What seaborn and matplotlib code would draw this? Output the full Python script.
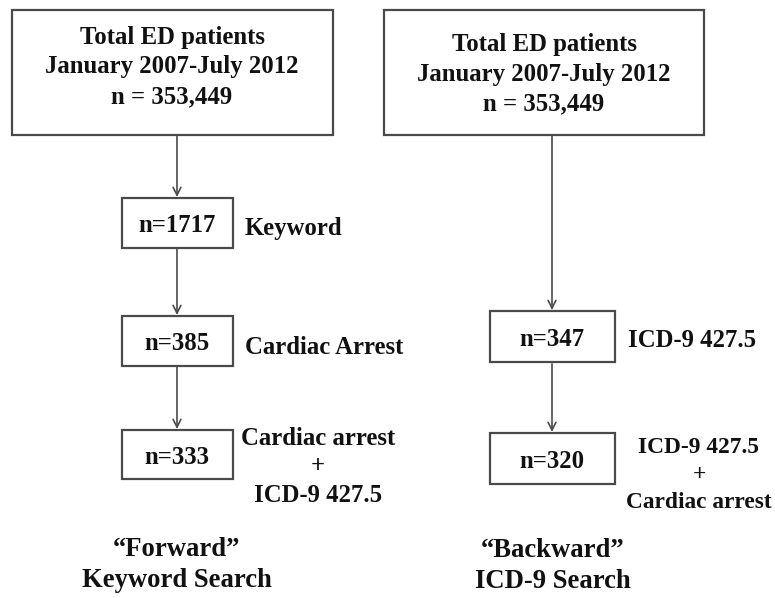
import matplotlib.pyplot as plt
import seaborn as sns
from matplotlib.patches import Rectangle

# flowchart content
top_label = "Total ED patients\nJanuary 2007-July 2012\nn = 353,449"
forward_counts = ["n=1717", "n=385", "n=333"]
forward_notes = ["Keyword", "Cardiac Arrest", "Cardiac arrest\n+\nICD-9 427.5"]
backward_counts = ["n=347", "n=320"]
backward_notes = ["ICD-9 427.5", "ICD-9 427.5\n+\nCardiac arrest"]
footers = ["\u201cForward\u201d\nKeyword Search", "\u201cBackward\u201d\nICD-9 Search"]

sns.set_theme(style="white")
plt.rcParams['font.family'] = ['Liberation Serif', 'DejaVu Serif']

fig = plt.figure(figsize=(7.75, 5.98), dpi=100)
ax = fig.add_axes([0, 0, 1, 1])
ax.set_xlim(0, 775)
ax.set_ylim(598, 0)
ax.axis("off")

edge = "#4a4a4a"
fs = 17.8
txt = dict(fontweight="bold", color="#111111")


def box(x0, y0, x1, y1):
    ax.add_patch(Rectangle((x0, y0), x1 - x0, y1 - y0, fill=False,
                           edgecolor=edge, linewidth=1.6))


def arrow(x, y0, y1):
    ax.annotate("", xy=(x, y1), xytext=(x, y0),
                arrowprops=dict(arrowstyle="->", color=edge, lw=1.2,
                                mutation_scale=14, shrinkA=0, shrinkB=0))


# top boxes
box(12, 10, 333, 135)
ax.text(172, 67, top_label, ha="center", va="center", fontsize=fs,
        linespacing=1.36, **txt)
box(384, 10, 704, 135)
ax.text(544, 74, top_label, ha="center", va="center", fontsize=fs,
        linespacing=1.36, **txt)

# forward chain
fy = [(198, 248), (316, 366), (430, 479)]
fx = (122, 233)
arrow(177, 135, 197)
for i, (c, n) in enumerate(zip(forward_counts, forward_notes)):
    y0, y1 = fy[i]
    box(fx[0], y0, fx[1], y1)
    ax.text(177, (y0 + y1) / 2 + 3, c, ha="center", va="center", fontsize=fs, **txt)
    if "\n" in n:
        ax.text(318, 467, n, ha="center", va="center", fontsize=fs,
                linespacing=1.33, **txt)
    else:
        ax.text(245, (y0 + y1) / 2 + 6, n, ha="left", va="center",
                fontsize=fs, **txt)
    if i < len(fy) - 1:
        arrow(177, y1, fy[i + 1][0] - 1)

# backward chain
by = [(311, 362), (433, 484)]
bx = (490, 615)
arrow(552, 135, 310)
for i, (c, n) in enumerate(zip(backward_counts, backward_notes)):
    y0, y1 = by[i]
    box(bx[0], y0, bx[1], y1)
    ax.text(552, (y0 + y1) / 2 + 3, c, ha="center", va="center", fontsize=fs, **txt)
    if "\n" in n:
        ax.text(699, 475, n, ha="center", va="center", fontsize=16.8,
                linespacing=1.4, **txt)
    else:
        ax.text(628, (y0 + y1) / 2 + 4, n, ha="left", va="center",
                fontsize=fs, **txt)
    if i < len(by) - 1:
        arrow(552, y1 + 2, by[i + 1][0] - 1)

# footers
ax.text(177, 565, footers[0], ha="center", va="center", fontsize=19.2,
        linespacing=1.36, **txt)
ax.text(553, 566, footers[1], ha="center", va="center", fontsize=19.2,
        linespacing=1.36, **txt)

fig.savefig("out.png", dpi=100, facecolor="white")
